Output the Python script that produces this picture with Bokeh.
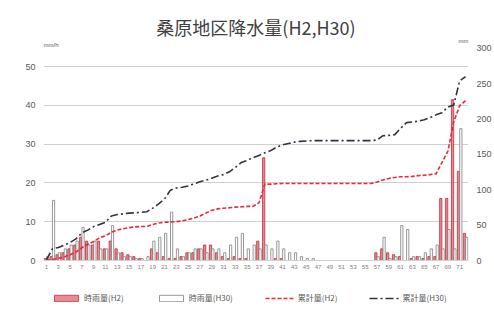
import numpy as np
from bokeh.plotting import figure
from bokeh.layouts import column
from bokeh.models import (Range1d, LinearAxis, FixedTicker, Legend, LegendItem, Title,
                          Label, ColumnDataSource)
from bokeh.transform import dodge
from bokeh.embed import file_html
from bokeh.resources import INLINE

# ---------------- data ----------------
hours = list(range(1, 73))
rain_h2 = [0.5, 1, 1.5, 2, 3, 4, 6, 5, 4, 5,
           3, 5, 3, 2, 1.5, 1, 0.5, 0, 3, 2,
           1, 0.5, 0.5, 1, 2, 2, 3, 4, 4, 2,
           1, 0.5, 1, 0.5, 0.5, 0, 5, 26.5, 0, 0.5,
           0.5, 0, 0, 0, 0, 0, 0, 0, 0, 0,
           0, 0, 0, 0, 0, 0, 2, 3, 2, 1.5,
           1, 0, 0.5, 1, 0.5, 1, 1, 16, 16, 41.5,
           23, 7]
rain_h30 = [1, 15.5, 2, 3, 4, 5, 8.5, 4, 5, 3,
            3, 9, 2, 1, 1, 0.5, 0.5, 1, 5, 6,
            7, 12.5, 3, 1, 2, 3, 3, 2, 3, 3,
            2, 4, 6, 7, 3, 4, 3, 4, 3, 5,
            3, 2, 2, 1, 0.5, 0.5, 0, 0, 0, 0,
            0, 0, 0, 0, 0, 0, 1, 6, 0.5, 1,
            9, 8, 1, 1, 2, 3, 4, 3, 8, 3,
            34, 6]
x_ticks = [1, 3, 5, 7, 9, 11, 13, 15, 17, 19, 21, 23, 25, 27, 29, 31, 33, 35,
           37, 39, 41, 43, 45, 47, 49, 51, 53, 55, 57, 59, 61, 63, 65, 67, 69, 71]
left_ticks = [0, 10, 20, 30, 40, 50]
right_ticks = [0, 50, 100, 150, 200, 250, 300]
series_names = ["時雨量(H2)", "時雨量(H30)", "累計量(H2)", "累計量(H30)"]
title_text = "桑原地区降水量(H2,H30)"
left_unit = "mm/h"
right_unit = "mm"

cum_h2 = [float(v) for v in np.cumsum(rain_h2)]
cum_h30 = [float(v) for v in np.cumsum(rain_h30)]

src = ColumnDataSource(dict(hour=hours, h2=rain_h2, h30=rain_h30,
                            c2=cum_h2, c30=cum_h30))

CJK = "Noto Sans CJK JP"
NUM = "Liberation Sans"
TXT = "#595959"

H2_BAR = dict(fill_color="#e0606e", fill_alpha=0.75, line_color="#c0303c", line_width=0.8)
H30_BAR = dict(fill_color="white", line_color="#7f7f7f", line_width=0.8)
H2_LINE = dict(line_color="#e8283c", line_dash="4 2", line_width=1.6)
H30_LINE = dict(line_color="#2f3440", line_dash="8 3 2 3", line_width=1.6)

p = figure(width=494, height=272, x_range=Range1d(0.5, 72.5), y_range=Range1d(0, 57.0),
           output_backend="svg", toolbar_location=None,
           min_border_left=43, min_border_right=26, min_border_top=0, min_border_bottom=12)
p.extra_y_ranges = {"cum": Range1d(0, 312.6)}
p.title.visible = False

# main title, with a small spacer above it
p.add_layout(Title(text=title_text, align="center", offset=4, text_font=CJK,
                   text_font_size="18px", text_font_style="normal", text_color="#404040",
                   standoff=0), "above")
p.add_layout(Title(text=" ", text_font_size="8px", standoff=0), "above")

p.outline_line_color = None
p.xgrid.grid_line_color = None
p.ygrid.grid_line_color = "#d0d0d0"
p.ygrid.grid_line_width = 1

xa = p.xaxis[0]
xa.ticker = FixedTicker(ticks=x_ticks)
xa.major_label_text_font_size = "6px"
xa.major_label_text_font = NUM
xa.major_label_text_color = "#7f7f7f"
xa.axis_line_color = "#d0d0d0"
xa.major_tick_line_color = None
xa.minor_tick_line_color = None
xa.major_tick_out = 0
xa.minor_tick_out = 0
xa.major_label_standoff = 4

ya = p.yaxis[0]
ya.ticker = FixedTicker(ticks=left_ticks)
ya.major_label_text_font_size = "9px"
ya.major_label_text_font = NUM
ya.major_label_text_color = TXT
ya.axis_line_color = None
ya.major_tick_line_color = None
ya.minor_tick_line_color = None
ya.major_tick_out = 0
ya.minor_tick_out = 0
ya.major_label_standoff = 8

ra = LinearAxis(y_range_name="cum", ticker=FixedTicker(ticks=right_ticks))
ra.major_label_text_font_size = "9px"
ra.major_label_text_font = NUM
ra.major_label_text_color = TXT
ra.axis_line_color = None
ra.major_tick_line_color = None
ra.minor_tick_line_color = None
ra.major_tick_out = 0
ra.minor_tick_out = 0
ra.major_label_standoff = 8
p.add_layout(ra, "right")

p.vbar(x=dodge("hour", -0.2), top="h2", width=0.38, source=src, **H2_BAR)
p.vbar(x=dodge("hour", 0.2), top="h30", width=0.38, source=src, **H30_BAR)
p.line("hour", "c2", source=src, y_range_name="cum", **H2_LINE)
p.line("hour", "c30", source=src, y_range_name="cum", **H30_LINE)

# axis unit labels, inside the top of the plot area
p.add_layout(Label(x=0.5, y=55.7, text=left_unit, text_font=NUM, text_font_size="6px",
                   text_color=TXT, text_align="left", text_baseline="middle"))
p.add_layout(Label(x=72.5, y=311, y_range_name="cum", text=right_unit, text_font=NUM,
                   text_font_size="6px", text_color=TXT, text_align="right",
                   text_baseline="middle"))

# ---- legend strip (separate small figure; its glyphs carry no visible data) ----
lg = figure(width=494, height=43, x_range=Range1d(0, 1), y_range=Range1d(0, 1),
            output_backend="svg", toolbar_location=None,
            x_axis_location=None, y_axis_location=None,
            min_border_left=0, min_border_right=0, min_border_top=0, min_border_bottom=0)
lg.outline_line_color = None
lg.grid.visible = False
hidden = ColumnDataSource(dict(x=[float("nan")], y=[float("nan")]))
g1 = lg.vbar(x="x", top="y", width=0.1, source=hidden, **H2_BAR)
g2 = lg.vbar(x="x", top="y", width=0.1, source=hidden, **H30_BAR)
g3 = lg.line("x", "y", source=hidden, **H2_LINE)
g4 = lg.line("x", "y", source=hidden, **H30_LINE)
legend = Legend(items=[LegendItem(label=series_names[0], renderers=[g1]),
                       LegendItem(label=series_names[1], renderers=[g2]),
                       LegendItem(label=series_names[2], renderers=[g3]),
                       LegendItem(label=series_names[3], renderers=[g4])],
                orientation="horizontal", location=(8, 12),
                label_text_font=CJK, label_text_font_size="8px", label_text_color=TXT,
                glyph_width=30, glyph_height=8, spacing=32,
                label_standoff=3, padding=2, margin=0,
                border_line_color=None, background_fill_alpha=0)
lg.add_layout(legend, "center")

layout = column(p, lg, spacing=0)
open("out.html", "w").write(file_html(layout, INLINE))
